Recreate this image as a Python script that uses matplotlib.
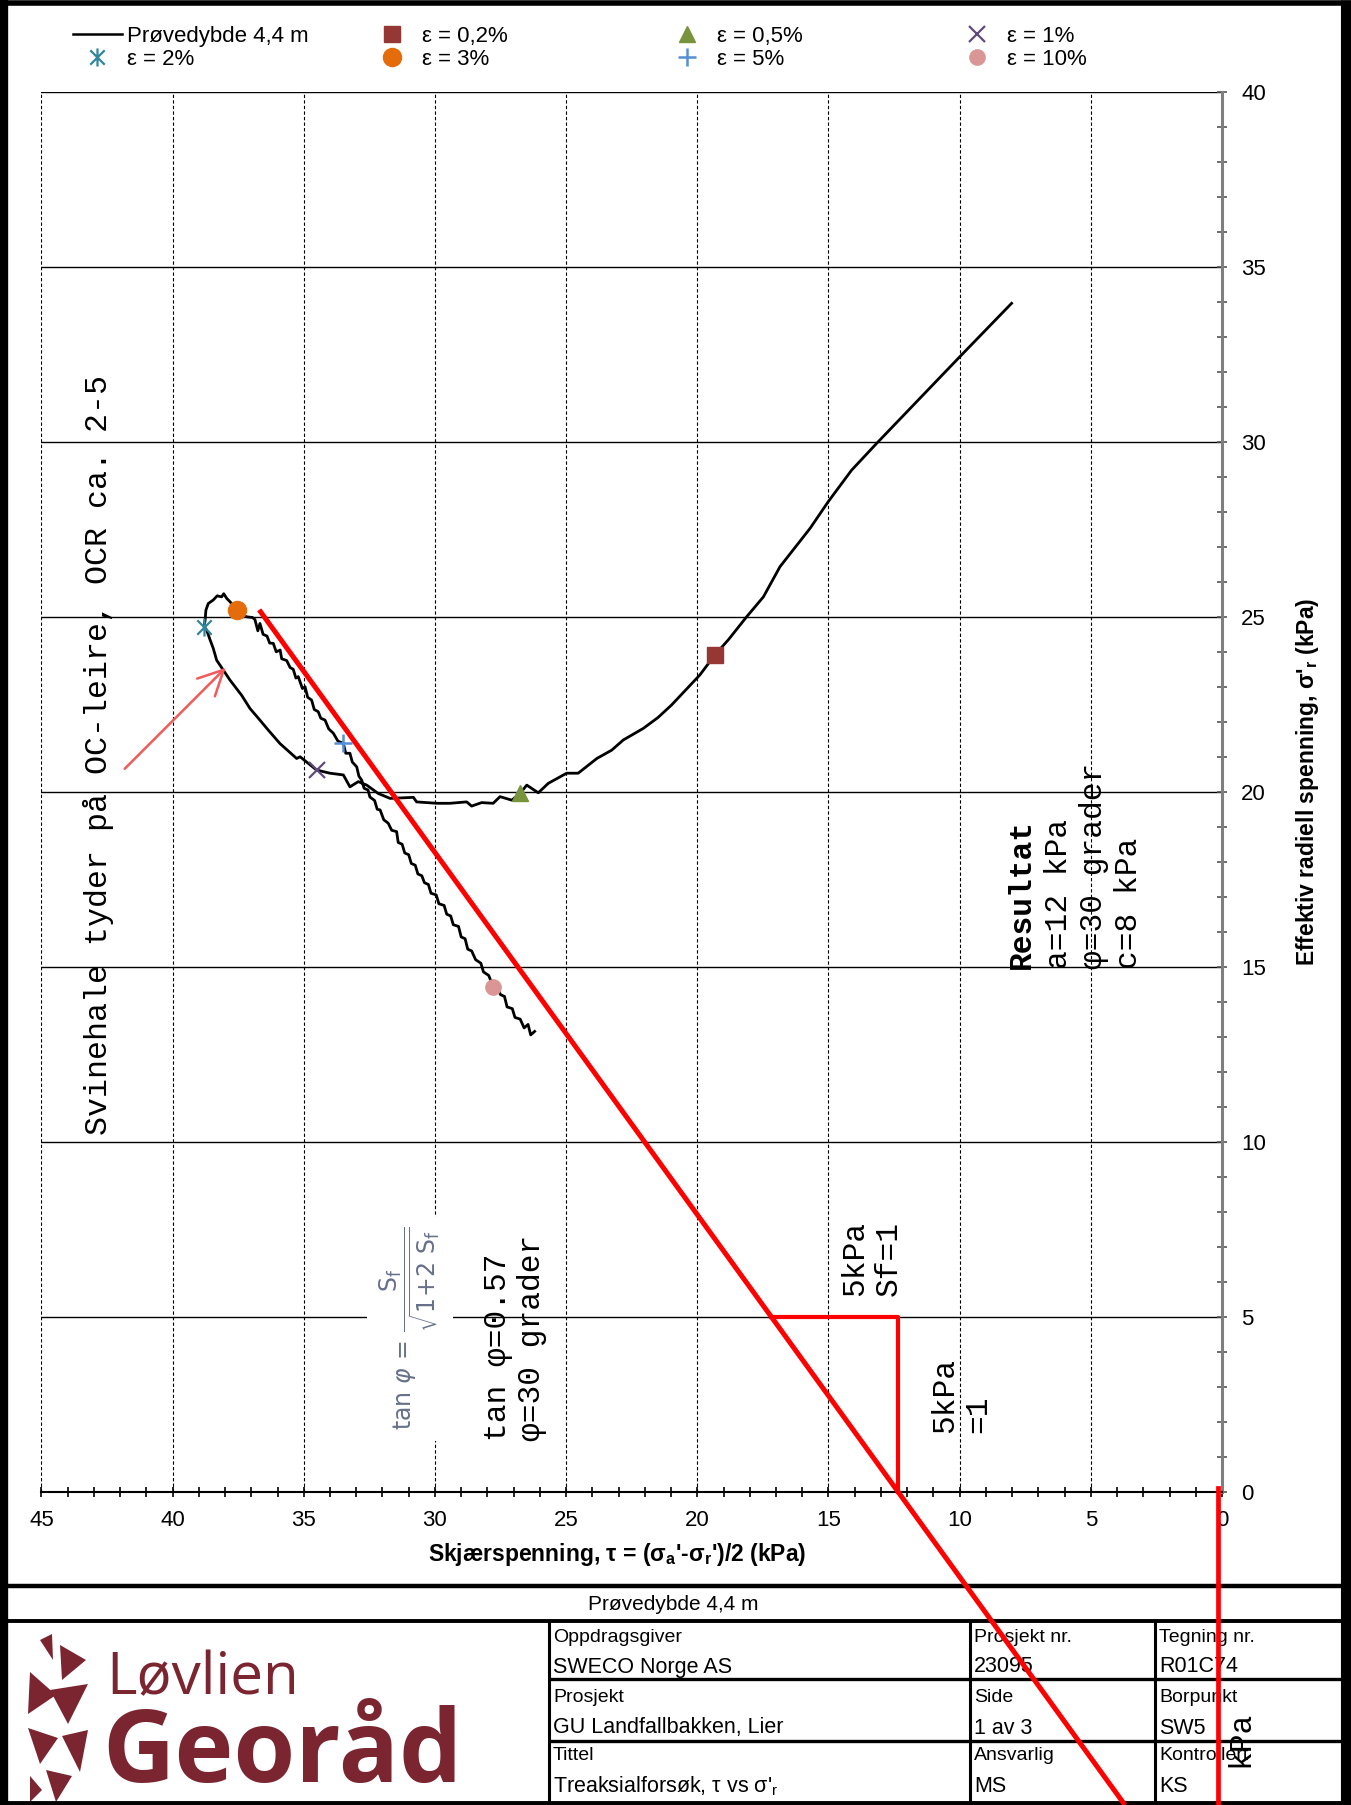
import matplotlib
matplotlib.use("Agg")
import matplotlib.pyplot as plt
from matplotlib.lines import Line2D
from matplotlib.patches import Polygon
from matplotlib.path import Path
from matplotlib.ticker import MultipleLocator

plt.rcParams['font.family'] = ['Liberation Sans', 'DejaVu Sans']
plt.rcParams['mathtext.fontset'] = 'custom'
plt.rcParams['mathtext.rm'] = 'Liberation Sans'
plt.rcParams['mathtext.bf'] = 'Liberation Sans:bold'
plt.rcParams['mathtext.it'] = 'Liberation Sans:italic'

W, H = 1351, 1805

# -------- data: stress path --------
tau = [8.02, 10.05, 13.16, 14.12, 15.01, 15.70, 16.85, 17.48, 18.12, 18.82, 19.33,
       19.90, 20.98, 21.50, 22.06, 22.82, 23.26, 23.83, 24.54, 24.98, 25.68, 26.06,
       26.50, 26.76, 27.07, 27.52, 27.78, 28.22, 28.60, 28.79, 29.43, 29.93, 30.70,
       30.82, 31.71, 32.16, 32.60, 32.92, 33.24, 33.49, 34.00, 34.51, 35.14, 35.27,
       35.91, 36.35, 36.73, 37.05, 37.37, 37.81, 38.07, 38.32, 38.45, 38.57, 38.70,
       38.80, 38.76, 38.73, 38.64, 38.45, 38.30, 38.13, 38.05, 37.94, 37.81, 37.53,
       37.30, 37.18, 36.95, 36.86, 36.75, 36.67, 36.55, 36.40, 36.30, 36.16, 36.05,
       35.90, 35.84, 35.65, 35.52, 35.40, 35.30, 35.21, 35.05, 34.95, 34.85, 34.70,
       34.60, 34.45, 34.35, 34.19, 34.05, 33.87, 33.70, 33.49, 33.40, 33.24, 33.15,
       32.98, 32.90, 32.79, 32.70, 32.55, 32.48, 32.30, 32.20, 32.09, 31.95, 31.78,
       31.65, 31.46, 31.40, 31.25, 31.15, 31.00, 30.90, 30.75, 30.65, 30.50, 30.40,
       30.25, 30.15, 29.95, 29.85, 29.65, 29.55, 29.40, 29.30, 29.10, 29.00, 28.85,
       28.75, 28.60, 28.45, 28.25, 28.15, 27.95, 27.78, 27.65, 27.50, 27.35, 27.25,
       27.05, 26.95, 26.75, 26.60, 26.45, 26.35, 26.20]
sigma_r = [33.96, 32.39, 29.96, 29.19, 28.29, 27.53, 26.43, 25.57, 25.00, 24.34, 23.91,
           23.34, 22.48, 22.12, 21.81, 21.48, 21.19, 20.95, 20.53, 20.53, 20.24, 19.97,
           20.19, 19.95, 19.76, 19.86, 19.67, 19.69, 19.59, 19.71, 19.67, 19.67, 19.71,
           19.84, 19.81, 19.95, 20.19, 20.29, 20.14, 20.48, 20.53, 20.62, 21.00, 20.95,
           21.38, 21.76, 22.10, 22.38, 22.76, 23.19, 23.48, 23.76, 24.10, 24.34, 24.62,
           24.72, 24.90, 25.19, 25.38, 25.48, 25.60, 25.57, 25.66, 25.53, 25.43, 25.19,
           25.05, 25.00, 24.98, 24.92, 24.60, 24.81, 24.50, 24.45, 24.25, 24.24, 24.00,
           24.05, 23.80, 23.75, 23.55, 23.50, 23.25, 23.29, 22.95, 23.00, 22.70, 22.62,
           22.35, 22.29, 22.10, 22.05, 21.80, 21.67, 21.45, 21.38, 21.10, 21.10, 20.85,
           20.71, 20.45, 20.33, 20.10, 20.05, 19.85, 19.75, 19.50, 19.48, 19.20, 19.10,
           18.90, 18.86, 18.55, 18.50, 18.25, 18.20, 17.95, 17.90, 17.65, 17.60, 17.40,
           17.35, 17.10, 17.05, 16.80, 16.75, 16.50, 16.45, 16.20, 16.15, 15.85, 15.80,
           15.50, 15.45, 15.20, 15.10, 14.85, 14.75, 14.43, 14.45, 14.20, 14.15, 13.85,
           13.80, 13.55, 13.50, 13.25, 13.35, 13.05, 13.15]

eps_labels = ['ε = 0,2%', 'ε = 0,5%', 'ε = 1%', 'ε = 2%', 'ε = 3%', 'ε = 5%', 'ε = 10%']
eps_tau = [19.33, 26.76, 34.51, 38.80, 37.55, 33.49, 27.78]
eps_sigma = [23.91, 19.95, 20.62, 24.72, 25.20, 21.38, 14.43]

# hand-drawn red construction lines and arrow
fail_x = [36.7, 3.7]
fail_y = [25.2, -8.96]
step_x = [17.2, 12.35, 12.35]
step_y = [5.0, 5.0, 0.0]
edge_x = [0.17, 0.17]
edge_y = [0.1, -8.96]
arrow_tail = (41.9, 20.6)
arrow_head = (37.9, 23.6)

# -------- styles --------
star = Path([(-1, -1), (1, 1), (-1, 1), (1, -1), (0, -1.25), (0, 1.25)],
            [Path.MOVETO, Path.LINETO] * 3)
eps_style = [
    dict(marker='s', color='#953735', ms=11),
    dict(marker='^', color='#77933C', ms=12),
    dict(marker='x', color='#604A7B', ms=12, mew=1.6),
    dict(marker=star, color='#31859C', ms=13, mew=1.6),
    dict(marker='o', color='#E46C0A', ms=13),
    dict(marker='+', color='#558ED5', ms=13, mew=1.8),
    dict(marker='o', color='#D99694', ms=11),
]

fig = plt.figure(figsize=(W / 100, H / 100), dpi=100)
ax = fig.add_axes([41.4 / W, 1 - 1491.5 / H, (1222 - 41.4) / W, (1491.5 - 92) / H])
ax.set_zorder(5)

ax.plot(tau, sigma_r, color='black', lw=2.0, zorder=4)
for x, y, st in zip(eps_tau, eps_sigma, eps_style):
    ax.plot([x], [y], ls='none', zorder=5, **st)

ax.set_xlim(45, 0)
ax.set_ylim(0, 40)
ax.xaxis.set_major_locator(MultipleLocator(5))
ax.xaxis.set_minor_locator(MultipleLocator(1))
ax.yaxis.set_major_locator(MultipleLocator(5))
ax.yaxis.set_minor_locator(MultipleLocator(1))
ax.yaxis.set_ticks_position('right')
ax.yaxis.set_label_position('right')
ax.spines['left'].set_visible(False)
ax.spines['top'].set_visible(False)
ax.spines['bottom'].set_linewidth(1.5)
ax.spines['right'].set_color('#7f7f7f')
ax.spines['right'].set_linewidth(2.2)
ax.tick_params(axis='x', which='both', direction='inout', length=7.7, width=1.2,
               labelsize=16, pad=9.5)
ax.tick_params(axis='y', which='both', direction='inout', length=7.7, width=1.2,
               color='#555555', labelsize=16, pad=10)
ax.xaxis.grid(True, which='major', color='black', lw=0.8, ls=(0, (3, 2)))
ax.yaxis.grid(True, which='major', color='black', lw=1.0, ls='-')
ax.set_axisbelow(True)

ax.set_xlabel("Skjærspenning, τ = (σ$_\\mathbf{a}$'-σ$_\\mathbf{r}$')/2 (kPa)",
              fontsize=16.5, fontweight='bold', labelpad=7)
ax.set_ylabel("Effektiv radiell spenning, σ'$_\\mathbf{r}$ (kPa)",
              fontsize=16.5, fontweight='bold', labelpad=20)
ax.xaxis.label.set_x(0.4875)
ax.yaxis.label.set_y(0.507)

# red construction lines
ax.plot(fail_x, fail_y, color='#FF0000', lw=3.6, clip_on=False, zorder=6,
        solid_capstyle='butt')
ax.plot(step_x, step_y, color='#FF0000', lw=3.0, clip_on=False, zorder=6)
ax.plot(edge_x, edge_y, color='#FF0000', lw=3.4, clip_on=False, zorder=6)
ax.annotate('', xy=arrow_head, xytext=arrow_tail,
            arrowprops=dict(arrowstyle='->', color='#F05A5A', lw=1.8,
                            mutation_scale=45), zorder=6)

# text notes
mono = 'Liberation Mono'
ax.text(42.84, 10.2, 'Svinehale tyder på OC-leire, OCR ca. 2-5', rotation=90,
        family=mono, fontsize=22.8, ha='center', va='bottom')
ax.text(7.62, 14.93, 'Resultat', rotation=90, family=mono, fontsize=22.5,
        fontweight='bold', ha='center', va='bottom')
ax.text(4.88, 14.93, 'a=12 kPa\nφ=30 grader\nc=8 kPa', rotation=90,
        family=mono, fontsize=22.5, ha='center', va='bottom', ma='left',
        linespacing=1.2)
ax.text(26.95, 1.44, 'tan φ=0.57\nφ=30 grader', rotation=90, family=mono,
        fontsize=22.5, ha='center', va='bottom', ma='left', linespacing=1.15)
ax.text(13.34, 5.6, '5kPa\nSf=1', rotation=90, family=mono, fontsize=22.5,
        ha='center', va='bottom', ma='left', linespacing=1.15)
ax.text(9.93, 1.67, '5kPa\n=1', rotation=90, family=mono, fontsize=22.5,
        ha='center', va='bottom', ma='left', linespacing=1.15)
ax.text(-0.69, -7.87, 'kPa', rotation=90, family=mono, fontsize=22.5,
        ha='center', va='bottom', clip_on=False)
ax.text(30.95, 4.65, r'$\tan\,\varphi\,=\,\dfrac{\mathrm{S_f}}{\sqrt{1\!+\!2\ \mathrm{S_f}}}$',
        rotation=90, fontsize=17, color='#66708a', ha='center', va='center',
        math_fontfamily='dejavusans',
        bbox=dict(boxstyle='square,pad=0.45', fc='white', ec='none'))

# legend (four columns, two rows)
hd = [Line2D([], [], color='black', lw=1.8)]
for st in eps_style:
    hd.append(Line2D([], [], ls='none', **st))
labels = ['Prøvedybde 4,4 m'] + eps_labels
cols = [(0, 4), (1, 5), (2, 6), (3, 7)]
col_x = [73, 368, 663, 953]
for (a, b), x0 in zip(cols, col_x):
    fig.legend([hd[a], hd[b]], [labels[a], labels[b]], loc='upper left',
               bbox_to_anchor=(x0 / W, 1 - 26 / H), frameon=False, fontsize=16,
               borderpad=0, borderaxespad=0, handlelength=2.2, handletextpad=0.23,
               labelspacing=0.1)

# -------- title block --------
def hline(y, x0, x1, lw):
    fig.add_artist(Line2D([x0 / W, x1 / W], [1 - y / H, 1 - y / H], color='black',
                          lw=lw, solid_capstyle='butt'))

def vline(x, y0, y1, lw):
    fig.add_artist(Line2D([x / W, x / W], [1 - y0 / H, 1 - y1 / H], color='black',
                          lw=lw, solid_capstyle='butt'))

hline(1586, 0, W, 3.2)
hline(1621, 0, W, 2.8)
hline(1679, 549, W, 2.4)
hline(1741, 549, W, 2.4)
for x in [549, 970, 1155]:
    vline(x, 1621, H, 2.2)
# outer frame
vline(4, 0, H, 6)
vline(1345.5, 0, H, 8)
hline(2.5, 0, W, 4)
hline(1803, 0, W, 3.5)

fig.text(673 / W, 1 - 1604 / H, 'Prøvedybde 4,4 m', ha='center', va='center', fontsize=15)
rows = [
    [(553, 'Oppdragsgiver', 'SWECO Norge AS'), (974, 'Prosjekt nr.', '23095'),
     (1159, 'Tegning nr.', 'R01C74')],
    [(553, 'Prosjekt', 'GU Landfallbakken, Lier'), (974, 'Side', '1 av 3'),
     (1159, 'Borpunkt', 'SW5')],
    [(553, 'Tittel', "Treaksialforsøk, τ vs σ'$_\\mathrm{r}$"), (974, 'Ansvarlig', 'MS'),
     (1159, 'Kontrollert', 'KS')],
]
for (y_lab, y_val), row in zip([(1637, 1667), (1698, 1728), (1756, 1786)], rows):
    for x, lab, val in row:
        fig.text(x / W, 1 - y_lab / H, lab, ha='left', va='center', fontsize=14)
        fig.text(x / W, 1 - y_val / H, val, ha='left', va='center', fontsize=15.5)

# logo
logo = '#7B2530'
fig.text(106 / W, 1 - 1694 / H, 'Løvlien', color=logo, fontsize=42,
         family='Open Sans', ha='left', va='baseline')
fig.text(102 / W, 1 - 1782 / H, 'Georåd', color=logo, fontsize=72,
         family='Open Sans', fontweight='bold', ha='left', va='baseline')
tris = [
    [(40, 1640), (52, 1634), (53, 1660)],
    [(60, 1645), (86, 1660), (62, 1680)],
    [(30, 1672), (56, 1695), (28, 1714)],
    [(50, 1690), (88, 1684), (68, 1724)],
    [(28, 1728), (58, 1738), (40, 1764)],
    [(62, 1736), (88, 1730), (80, 1772)],
    [(46, 1770), (72, 1776), (56, 1802)],
    [(30, 1776), (42, 1790), (30, 1802)],
]
for t in tris:
    fig.add_artist(Polygon([(x / W, 1 - y / H) for x, y in t], closed=True,
                           fc=logo, ec='none', transform=fig.transFigure))

fig.savefig('out.png', dpi=100)
